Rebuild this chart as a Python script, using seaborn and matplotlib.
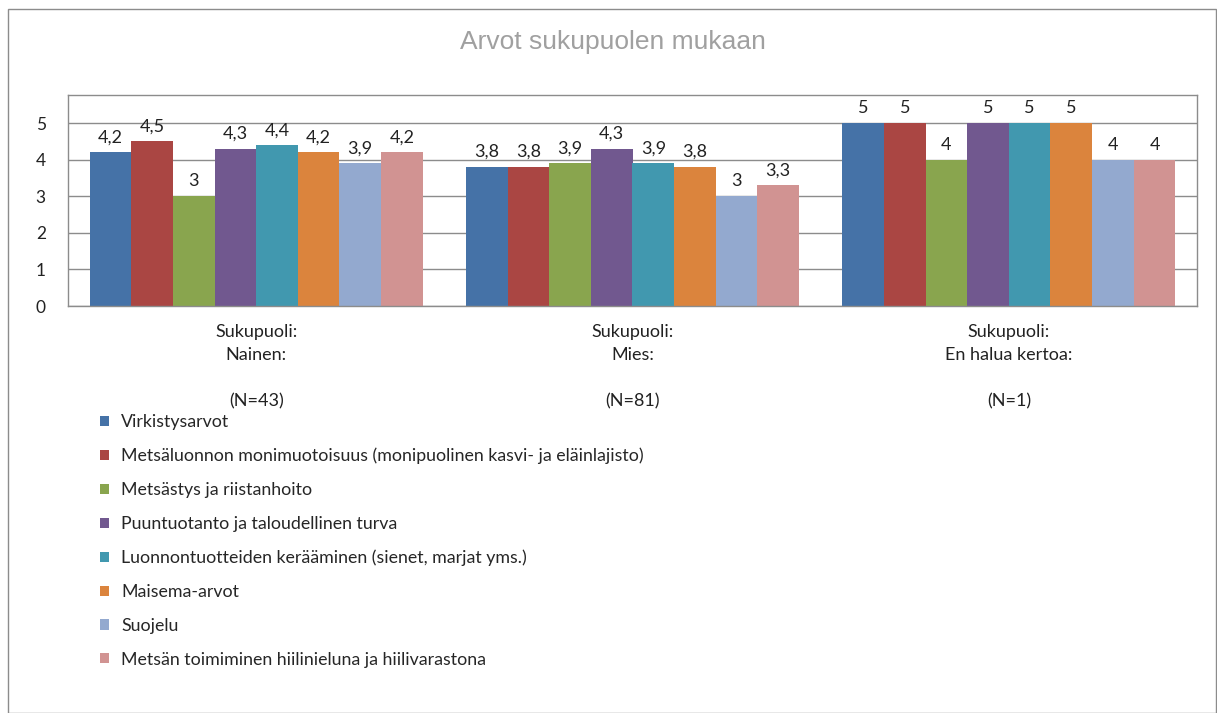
import matplotlib
matplotlib.use("Agg")
import matplotlib.pyplot as plt
import matplotlib.patches as mpatches
import seaborn as sns
import pandas as pd

groups = ["Sukupuoli:\nNainen:\n\n(N=43)", "Sukupuoli:\nMies:\n\n(N=81)", "Sukupuoli:\nEn halua kertoa:\n\n(N=1)"]
series = [
    "Virkistysarvot",
    "Metsäluonnon monimuotoisuus (monipuolinen kasvi- ja eläinlajisto)",
    "Metsästys ja riistanhoito",
    "Puuntuotanto ja taloudellinen turva",
    "Luonnontuotteiden kerääminen (sienet, marjat yms.)",
    "Maisema-arvot",
    "Suojelu",
    "Metsän toimiminen hiilinieluna ja hiilivarastona",
]
values_nainen = [4.2, 4.5, 3, 4.3, 4.4, 4.2, 3.9, 4.2]
values_mies = [3.8, 3.8, 3.9, 4.3, 3.9, 3.8, 3.0, 3.3]
values_en = [5, 5, 4, 5, 5, 5, 4, 4]
colors = ["#4572A7", "#AA4643", "#89A54E", "#71588F", "#4198AF", "#DB843D", "#93A9CF", "#D19392"]

rows = []
for g, vals in zip(groups, [values_nainen, values_mies, values_en]):
    for s, v in zip(series, vals):
        rows.append({"group": g, "series": s, "value": v})
df = pd.DataFrame(rows)

sns.set_style("white")
plt.rcParams["font.family"] = ["Lato", "DejaVu Sans"]

W, H = 1217, 713
fig = plt.figure(figsize=(W / 100, H / 100), dpi=100)
ax = fig.add_axes([68 / W, 1 - 306 / H, (1197 - 68) / W, (306 - 95) / H])

sns.barplot(data=df, x="group", y="value", hue="series", palette=colors,
            width=0.885, gap=0, ax=ax, legend=False, saturation=1, errorbar=None,
            linewidth=0, edgecolor="none")

ax.set_ylim(0, 5.77)
ax.set_yticks([0, 1, 2, 3, 4, 5])
ax.yaxis.grid(True, color="#8c8c8c", linewidth=1)
ax.set_axisbelow(True)
for sp in ax.spines.values():
    sp.set_color("#8c8c8c")
    sp.set_linewidth(1)
ax.set_xlabel("")
ax.set_ylabel("")
ax.tick_params(axis="y", labelsize=12.5, colors="#222222", length=0, pad=16)
ax.tick_params(axis="x", labelsize=13, colors="#222222", length=0, pad=13)
for lbl in ax.get_xticklabels():
    lbl.set_linespacing(1.55)

for cont in ax.containers:
    labels = [f"{b.get_height():g}".replace(".", ",") for b in cont]
    ax.bar_label(cont, labels=labels, padding=5, fontsize=13, color="#222222")

fig.text(613 / W, 1 - 42 / H, "Arvot sukupuolen mukaan", ha="center", va="center",
         fontsize=19, color="#a0a0a0", family="Liberation Sans")

handles = [mpatches.Patch(facecolor=c, edgecolor="none") for c in colors]
fig.legend(handles, series, loc="upper left", bbox_to_anchor=(100 / W, 1 - 414 / H),
           frameon=False, fontsize=12.8, handlelength=0.5, handleheight=0.5,
           handletextpad=0.7, labelspacing=1.0, borderaxespad=0, borderpad=0)

fig.patches.append(mpatches.Rectangle((8 / W, 0), 1 - 9 / W, 1 - 9 / H, transform=fig.transFigure,
                                      fill=False, edgecolor="#8c8c8c", linewidth=1))

fig.savefig("out.png", dpi=100, facecolor="white")
